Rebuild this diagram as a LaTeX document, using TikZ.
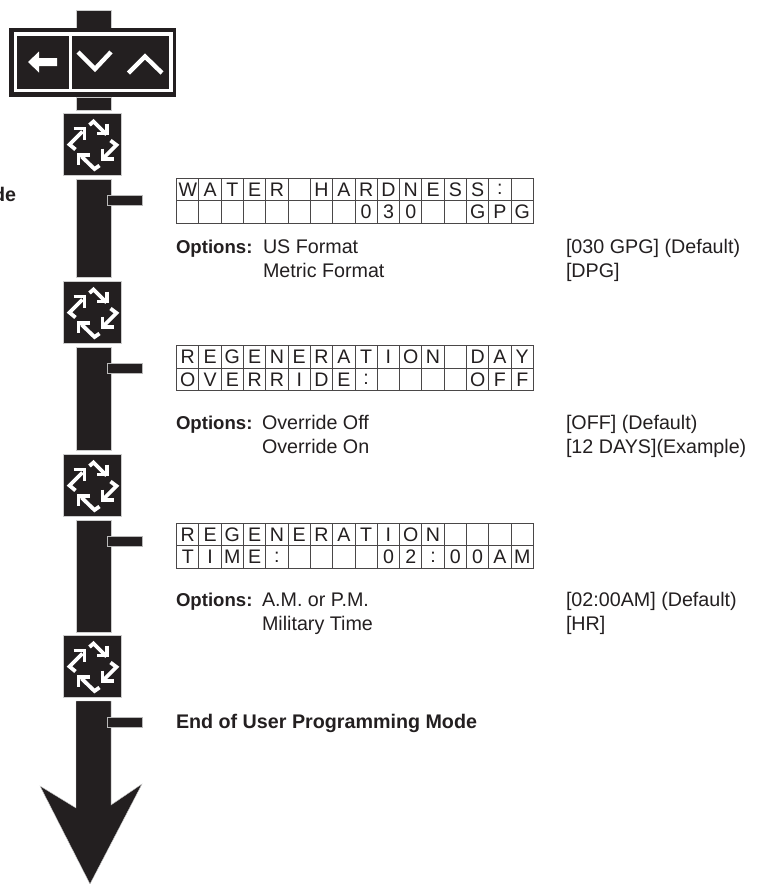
\documentclass[tikz,border=0pt]{standalone}
\usepackage{fontspec}
\setmainfont{Liberation Sans}
\definecolor{ink}{HTML}{231F20}
\definecolor{grid}{HTML}{4A4748}
\tikzset{
  shaft/.style={fill=ink,draw=gray!40,line width=0.4pt},
  tick/.style={fill=ink,draw=gray!55,line width=0.8pt},
  glyph/.style={draw=white,line width=3.8pt,line cap=butt,line join=miter,fill=none},
  cellbox/.style={draw=grid,line width=0.9pt,minimum width=22.3pt,minimum height=22.4pt,inner sep=0pt,outer sep=0pt,anchor=center,font=\fontsize{19.6}{19.6}\selectfont,text=ink},
  label/.style={anchor=base west,inner sep=0pt,outer sep=0pt,font=\fontsize{19.7}{19.7}\selectfont,text=ink},
  blabel/.style={label,font=\fontsize{19.7}{19.7}\selectfont\bfseries},
  optlabel/.style={label,font=\fontsize{18.6}{18.6}\selectfont\bfseries}
}
% recycle icon, (#1,#2)= top-left corner of its square
\newcommand{\recycleicon}[3]{%
  \node[fill=ink,draw=gray!40,line width=0.4pt,minimum width=58pt,minimum height=62pt,inner sep=0pt,outer sep=0pt,anchor=north west] (#3) at (#1,#2) {};
  \begin{scope}[shift={(#1,#2)}]
    \draw[glyph] (26,11.5) -- (30,8) -- (43,21);
    \draw[glyph] (43.5,10) -- (43.5,20) -- (33,20);
    \draw[glyph] (47,27) -- (53,31.5) -- (40,44.5);
    \draw[glyph] (39,35) -- (39,45.5) -- (50,45.5);
    \draw[glyph] (36,52) -- (31,55.5) -- (18,43);
    \draw[glyph] (15,51) -- (15,41.5) -- (26,41.5);
    \draw[glyph] (12,36) -- (6,31) -- (19,18);
    \draw[glyph] (10,15) -- (21,15) -- (21,26);
  \end{scope}}
\newcommand{\lcdrow}[3]{%
  \foreach \ch [count=\i] in {#3} {
    \node[cellbox] (#1c\i) at ({176.6+22.3*(\i-0.5)},#2) {\ch};
  }}
\begin{document}
\begin{tikzpicture}[x=1pt,y=-1pt]
\useasboundingbox (0,0) rectangle (759,884);
% shaft pieces
\node[shaft,minimum width=35pt,minimum height=18pt,inner sep=0pt,outer sep=0pt,anchor=north west] (stub) at (76,10) {};
\node[fill=ink,minimum width=167pt,minimum height=69pt,inner sep=0pt,outer sep=0pt,anchor=north west] (panel) at (9.3,27.8) {};
\node[draw=white,line width=3.2pt,minimum width=155.3pt,minimum height=56.7pt,inner sep=0pt,outer sep=0pt,anchor=north west] (frame) at (15.7,34) {};
\draw[white,line width=3.6pt] (70.3,34) -- (70.3,90.5);
\node[shaft,minimum width=35pt,minimum height=13pt,inner sep=0pt,outer sep=0pt,anchor=north west] (s0) at (76,97) {};
% back arrow and chevrons
\fill[white] (28,62) -- (39,51.5) -- (39,58) -- (57,58) -- (57,66) -- (39,66) -- (39,72.5) -- cycle;
\draw[white,line width=4.4pt,line join=miter] (78,52) -- (95,69) -- (111,52);
\draw[white,line width=4.4pt,line join=miter] (128.5,73) -- (145,56.5) -- (162,73);
% icons
\recycleicon{63.5}{113.5}{i1}
\recycleicon{63.5}{281.5}{i2}
\recycleicon{63.5}{454.5}{i3}
\recycleicon{63.5}{635.5}{i4}
% shaft segments and ticks
\fill[shaft] (76,179) rectangle (111,277);
\fill[shaft] (76,347) rectangle (111,450);
\fill[shaft] (76,520) rectangle (111,632);
\fill[tick] (107,195.5) rectangle (142,205.5);
\fill[tick] (107,363.5) rectangle (142,373.5);
\fill[tick] (107,536.5) rectangle (142,546.5);
% final arrow
\fill[shaft] (76,701) -- (111,701) -- (111,805) -- (142,784) -- (90,884) -- (40,786) -- (76,808) -- cycle;
\fill[tick] (107,717.5) rectangle (142,727.5);
% LCD 1
\lcdrow{lcdAa}{189.5}{W,A,T,E,R,{},H,A,R,D,N,E,S,S,:,{}}
\lcdrow{lcdAb}{211.9}{{},{},{},{},{},{},{},{},0,3,0,{},{},G,P,G}
\node[optlabel] (o1) at (176,253) {Options:};
\node[label] (o1a) at (263,253) {US Format};
\node[label] (o1b) at (263,277) {Metric Format};
\node[label] (v1a) at (566,253) {[030 GPG] (Default)};
\node[label] (v1b) at (566,277) {[DPG]};
% LCD 2
\lcdrow{lcdBa}{356.9}{R,E,G,E,N,E,R,A,T,I,O,N,{},D,A,Y}
\lcdrow{lcdBb}{379.3}{O,V,E,R,R,I,D,E,:,{},{},{},{},O,F,F}
\node[optlabel] (o2) at (176,429) {Options:};
\node[label] (o2a) at (262,429) {Override Off};
\node[label] (o2b) at (262,453) {Override On};
\node[label] (v2a) at (566,429) {[OFF] (Default)};
\node[label] (v2b) at (566,453) {[12 DAYS](Example)};
% LCD 3
\lcdrow{lcdCa}{534.5}{R,E,G,E,N,E,R,A,T,I,O,N,{},{},{},{}}
\lcdrow{lcdCb}{556.9}{T,I,M,E,:,{},{},{},{},0,2,:,0,0,A,M}
\node[optlabel] (o3) at (176,606) {Options:};
\node[label] (o3a) at (262,606) {A.M. or P.M.};
\node[label] (o3b) at (262,630) {Military Time};
\node[label] (v3a) at (566,606) {[02:00AM] (Default)};
\node[label] (v3b) at (566,630) {[HR]};
% captions
\node[blabel] (endm) at (176,728) {End of User Programming Mode};
\node[blabel,anchor=base east] (mode) at (16,201) {de};
\end{tikzpicture}
\end{document}
